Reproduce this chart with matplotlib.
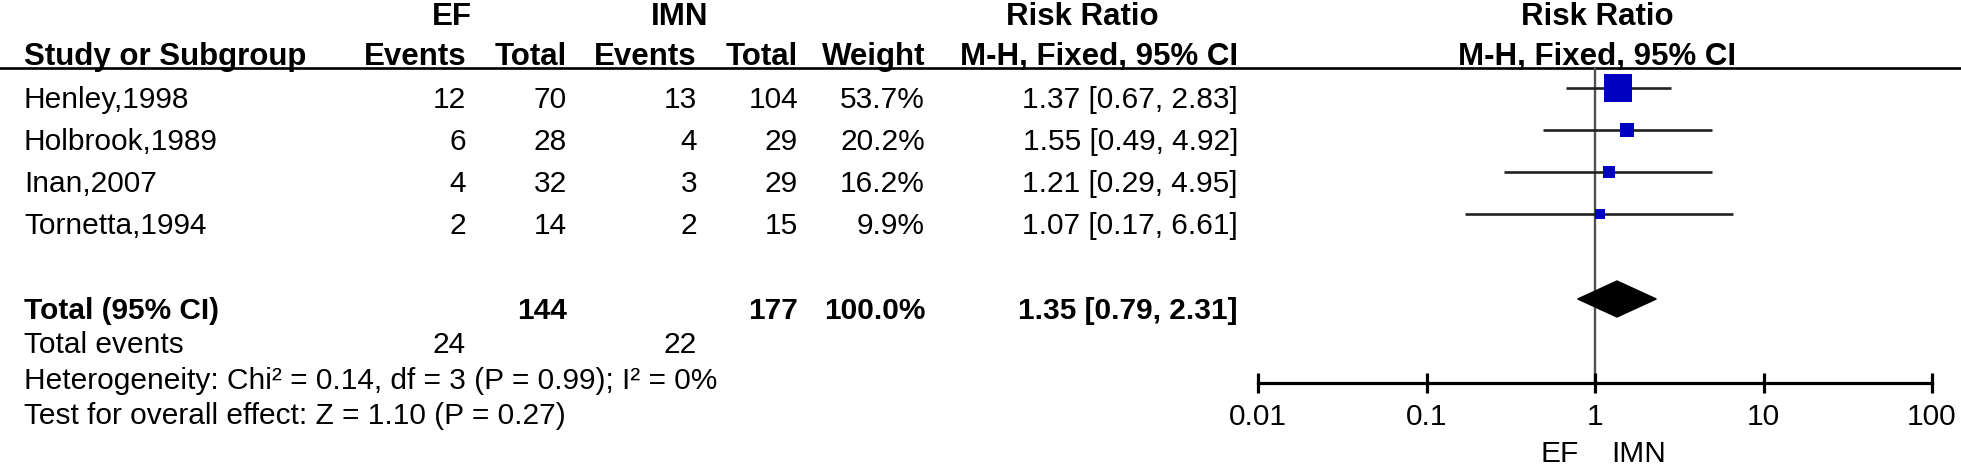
import matplotlib
matplotlib.use("Agg")
import matplotlib.pyplot as plt
from matplotlib.ticker import NullLocator

plt.rcParams['font.family'] = ['Liberation Sans', 'DejaVu Sans']

# study data
studies = ['Henley,1998', 'Holbrook,1989', 'Inan,2007', 'Tornetta,1994']
ef_events = [12, 6, 4, 2]
ef_total = [70, 28, 32, 14]
imn_events = [13, 4, 3, 2]
imn_total = [104, 29, 29, 15]
weights = [53.7, 20.2, 16.2, 9.9]
rr = [1.37, 1.55, 1.21, 1.07]
ci_low = [0.67, 0.49, 0.29, 0.17]
ci_high = [2.83, 4.92, 4.95, 6.61]

# pooled result
total_ef, total_imn = 144, 177
events_ef, events_imn = 24, 22
rr_total, rr_total_low, rr_total_high = 1.35, 0.79, 2.31
heterogeneity = 'Heterogeneity: Chi² = 0.14, df = 3 (P = 0.99); I² = 0%'
overall = 'Test for overall effect: Z = 1.10 (P = 0.27)'
ticks = [0.01, 0.1, 1, 10, 100]
tick_labels = ['0.01', '0.1', '1', '10', '100']

W, H = 1961, 465
FS = 21.5     # body text
FS_HEAD = 22.5  # bold headers
fig = plt.figure(figsize=(W / 100, H / 100), dpi=100)
ax = fig.add_axes([0, 0, 1, 1])
ax.set_xlim(0, W)
ax.set_ylim(H, 0)
ax.axis('off')

# column anchors (pixels)
x_study = 24
x_ef_ev, x_ef_tot = 466, 567
x_imn_ev, x_imn_tot = 697, 798
x_weight, x_ci = 925, 1238
x_plot = 1597

def txt(x, y, s, ha='right', bold=False, size=FS):
    ax.text(x, y, s, ha=ha, va='baseline', fontsize=size,
            fontweight='bold' if bold else 'normal')

def head(x, y, s, ha='right'):
    txt(x, y, s, ha=ha, bold=True, size=FS_HEAD)

# headers
y_h1, y_h2 = 25, 65
head(452, y_h1, 'EF', ha='center')
head(680, y_h1, 'IMN', ha='center')
head(1082, y_h1, 'Risk Ratio', ha='center')
head(x_plot, y_h1, 'Risk Ratio', ha='center')
head(x_study, y_h2, 'Study or Subgroup', ha='left')
head(x_ef_ev, y_h2, 'Events')
head(x_ef_tot, y_h2, 'Total')
head(x_imn_ev, y_h2, 'Events')
head(x_imn_tot, y_h2, 'Total')
head(x_weight, y_h2, 'Weight')
head(x_ci, y_h2, 'M-H, Fixed, 95% CI')
head(x_plot, y_h2, 'M-H, Fixed, 95% CI', ha='center')
ax.axhline(68, color='black', lw=1.9)

# study rows
row_y = [88 + 42 * i for i in range(len(studies))]
for i, name in enumerate(studies):
    yb = row_y[i] + 20
    txt(x_study, yb, name, ha='left')
    txt(x_ef_ev, yb, str(ef_events[i]))
    txt(x_ef_tot, yb, str(ef_total[i]))
    txt(x_imn_ev, yb, str(imn_events[i]))
    txt(x_imn_tot, yb, str(imn_total[i]))
    txt(x_weight, yb, f'{weights[i]:.1f}%')
    txt(x_ci, yb, f'{rr[i]:.2f} [{ci_low[i]:.2f}, {ci_high[i]:.2f}]')

# total rows
y_tot = 299
txt(x_study, y_tot + 20, 'Total (95% CI)', ha='left', bold=True)
txt(x_ef_tot, y_tot + 20, str(total_ef), bold=True)
txt(x_imn_tot, y_tot + 20, str(total_imn), bold=True)
txt(x_weight, y_tot + 20, f'{sum(weights):.1f}%', bold=True)
txt(x_ci, y_tot + 20, f'{rr_total:.2f} [{rr_total_low:.2f}, {rr_total_high:.2f}]', bold=True)
txt(x_study, 353, 'Total events', ha='left')
txt(x_ef_ev, 353, str(events_ef))
txt(x_imn_ev, 353, str(events_imn))
txt(x_study, 389, heterogeneity, ha='left')
txt(x_study, 424, overall, ha='left')

# forest plot
x0, x1 = 1258, 1932
fa = fig.add_axes([x0 / W, 0, (x1 - x0) / W, 1])
fa.patch.set_visible(False)
fa.set_xscale('log')
fa.set_xlim(0.01, 100)
fa.set_ylim(H, 0)
for s in ['top', 'left', 'right']:
    fa.spines[s].set_visible(False)
fa.spines['bottom'].set_position(('data', 383))
fa.spines['bottom'].set_linewidth(2.3)
fa.set_xticks(ticks)
fa.set_xticklabels(tick_labels)
fa.xaxis.set_minor_locator(NullLocator())
fa.tick_params(axis='x', direction='inout', length=15, width=2.3,
               pad=7, labelsize=FS)
fa.set_yticks([])

fa.plot([1, 1], [68, 383], color='#505050', lw=1.7, zorder=1)
fa.hlines(row_y, ci_low, ci_high, color='#222222', lw=1.9, zorder=2)
# square side grows with study weight
sides = [(5.9 + 0.411 * w) * 0.72 for w in weights]
fa.scatter(rr, row_y, s=[v ** 2 for v in sides], marker='s',
           color='#0000c0', linewidths=0, zorder=3)
fa.fill([rr_total_low, rr_total, rr_total_high, rr_total],
        [y_tot, y_tot - 18, y_tot, y_tot + 18], color='black', zorder=3)
fa.text(0.8, 462, 'EF', ha='right', va='baseline', fontsize=FS)
fa.text(1.25, 462, 'IMN', ha='left', va='baseline', fontsize=FS)

fig.savefig('out.png', dpi=100)
